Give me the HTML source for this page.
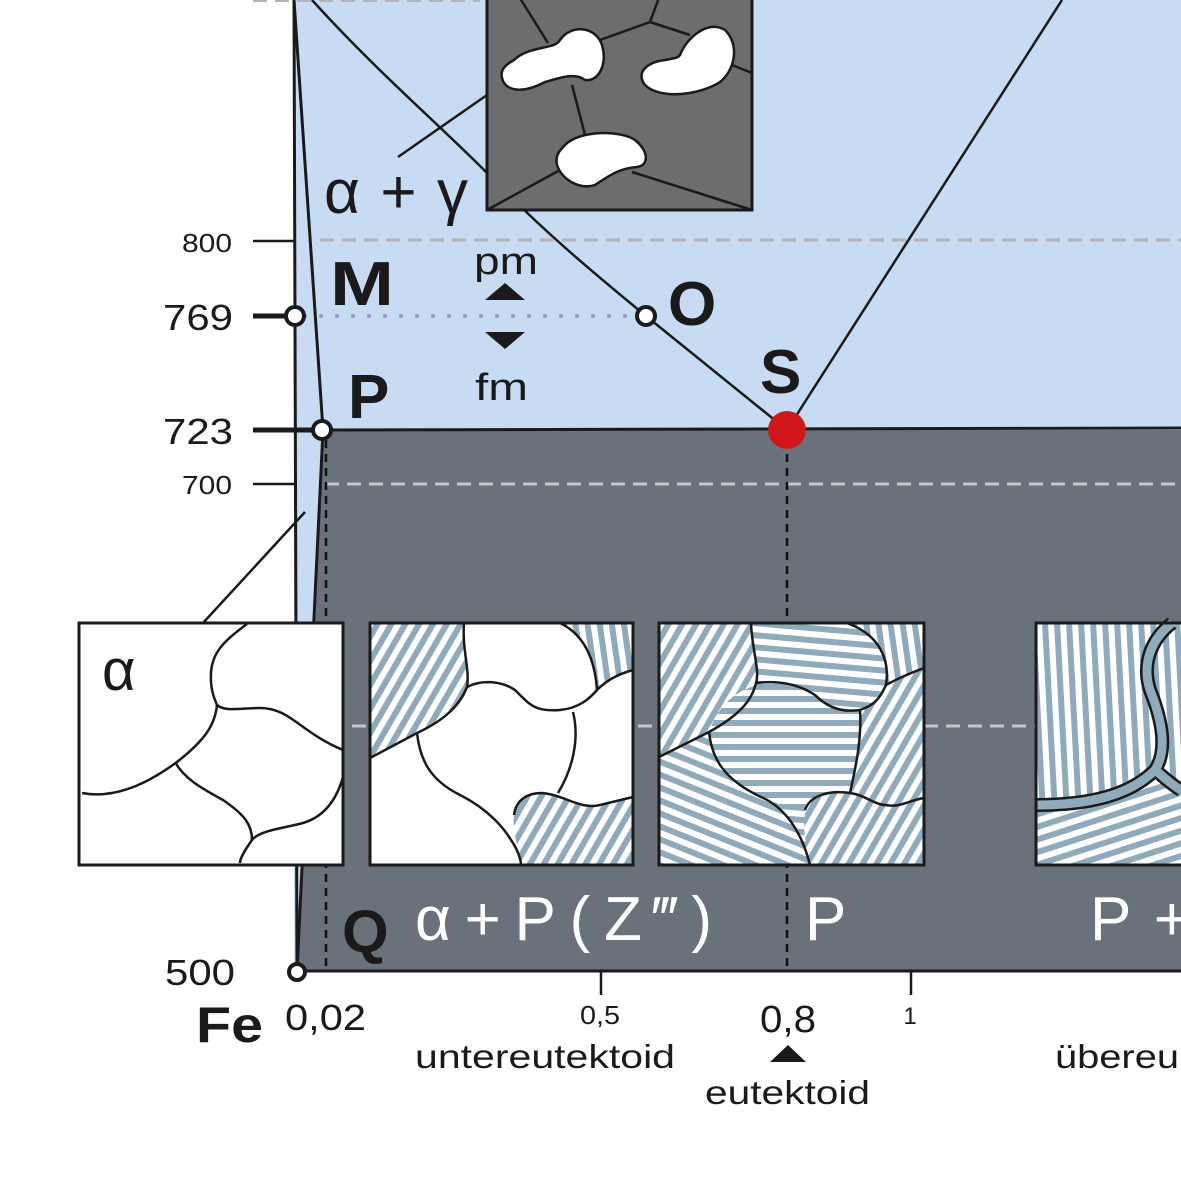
<!DOCTYPE html>
<html><head><meta charset="utf-8"><style>html,body{margin:0;padding:0;background:#fff}svg{display:block}text{font-family:"Liberation Sans",sans-serif}</style></head><body>
<svg width="1181" height="1181" viewBox="0 0 1181 1181" xmlns="http://www.w3.org/2000/svg">
<defs>
<pattern id="h1" width="12" height="12" patternUnits="userSpaceOnUse" patternTransform="rotate(30)"><rect width="12" height="12" fill="#fff"/><rect width="6" height="12" fill="#8eaabb"/></pattern>
<pattern id="h3" width="12" height="12" patternUnits="userSpaceOnUse" patternTransform="rotate(95)"><rect width="12" height="12" fill="#fff"/><rect width="6" height="12" fill="#8eaabb"/></pattern>
<pattern id="h4" width="12" height="12" patternUnits="userSpaceOnUse" patternTransform="rotate(90)"><rect width="12" height="12" fill="#fff"/><rect width="6" height="12" fill="#8eaabb"/></pattern>
<pattern id="h5" width="12" height="12" patternUnits="userSpaceOnUse" patternTransform="rotate(112)"><rect width="12" height="12" fill="#fff"/><rect width="6" height="12" fill="#8eaabb"/></pattern>
<pattern id="h6" width="12" height="12" patternUnits="userSpaceOnUse" patternTransform="rotate(72)"><rect width="12" height="12" fill="#fff"/><rect width="6" height="12" fill="#8eaabb"/></pattern>
<pattern id="hv" width="12" height="12" patternUnits="userSpaceOnUse" patternTransform="rotate(-8)"><rect width="12" height="12" fill="#fff"/><rect width="6" height="12" fill="#8eaabb"/></pattern>
<pattern id="h0" width="12" height="12" patternUnits="userSpaceOnUse" patternTransform="rotate(-3)"><rect width="12" height="12" fill="#fff"/><rect width="6" height="12" fill="#8eaabb"/></pattern>
</defs>
<polygon points="294,0 1181,0 1181,430 323,430 297,972 294,972" fill="#c7dcf3"/>
<polygon points="323,430 1181,430 1181,972 297,972" fill="#69717b"/>
<line x1="253" y1="0" x2="480" y2="0" stroke="#b5b5b5" stroke-width="4" stroke-dasharray="14,8"/>
<line x1="320" y1="240" x2="1181" y2="240" stroke="#b5b5b5" stroke-width="3" stroke-dasharray="14,8"/>
<line x1="325" y1="484" x2="1181" y2="484" stroke="#c4c8cc" stroke-width="3" stroke-dasharray="14,8"/>
<line x1="330" y1="726" x2="1181" y2="726" stroke="#c4c8cc" stroke-width="3" stroke-dasharray="14,8"/>
<line x1="305" y1="316" x2="635" y2="316" stroke="#9b93c8" stroke-width="4" stroke-dasharray="0,16" stroke-linecap="round"/>
<line x1="326" y1="440" x2="326" y2="972" stroke="#111" stroke-width="2.5" stroke-dasharray="8,6"/>
<line x1="787" y1="440" x2="787" y2="972" stroke="#111" stroke-width="2.5" stroke-dasharray="8,6"/>
<g stroke="#1a1a1a" fill="none">
<line x1="294" y1="0" x2="297" y2="972" stroke-width="3"/>
<polyline points="294,0 323,430 297,972" stroke-width="3"/>
<path d="M312,0 C380,75 440,125 490,176 C540,228 590,270 646,316 L787,430" stroke-width="2.5"/>
<line x1="787" y1="430" x2="1062" y2="0" stroke-width="2.5"/>
<line x1="323" y1="430" x2="1181" y2="428" stroke-width="3"/>
<line x1="297" y1="971" x2="1181" y2="971" stroke-width="3"/>
<line x1="253" y1="241" x2="295" y2="241" stroke-width="2.5"/>
<line x1="253" y1="316" x2="290" y2="316" stroke-width="5"/>
<line x1="253" y1="430" x2="315" y2="430" stroke-width="5"/>
<line x1="253" y1="484" x2="295" y2="484" stroke-width="2.5"/>
<line x1="601" y1="972" x2="601" y2="995" stroke-width="2.5"/>
<line x1="911" y1="972" x2="911" y2="995" stroke-width="2.5"/>
<line x1="398" y1="157" x2="487" y2="95" stroke-width="2.5"/>
<line x1="305" y1="512" x2="203" y2="623" stroke-width="2.5"/>
</g>
<g fill="#fff" stroke="#1a1a1a" stroke-width="4">
<circle cx="295" cy="316" r="9"/><circle cx="646" cy="316" r="9"/><circle cx="322" cy="430" r="9"/><circle cx="297" cy="972" r="8"/>
</g>
<circle cx="787" cy="430" r="19" fill="#d0181b"/>
<rect x="487" y="-5" width="265" height="215" fill="#6d6c6e" stroke="#1a1a1a" stroke-width="3"/>
<g stroke="#1a1a1a" stroke-width="2.5" fill="none">
<path d="M548,43 L518,-5"/><path d="M600,40 L650,22 L660,-5"/><path d="M650,22 L690,35"/><path d="M732,65 L752,73"/>
<path d="M572,85 L585,135"/><path d="M487,210 L560,170"/><path d="M632,172 L752,210"/>
</g>
<g fill="#fff" stroke="#1a1a1a" stroke-width="2.5">
<path d="M514,60 C530,45 555,50 560,40 C570,25 595,25 602,45 C608,65 598,82 585,80 C575,72 560,78 545,82 C520,95 505,90 502,78 C500,70 505,65 514,60Z"/>
<path d="M680,55 C688,35 710,20 725,30 C740,45 735,70 720,82 C700,95 660,100 645,85 C635,72 648,62 665,60 C675,58 678,58 680,55Z"/>
<path d="M565,145 C580,130 620,130 635,140 C648,150 650,165 637,167 C620,168 610,175 595,185 C580,190 562,180 557,165 C555,155 560,150 565,145Z"/>
</g>
<rect x="79" y="623" width="264" height="242" fill="#fff" stroke="#1a1a1a" stroke-width="3"/>
<g stroke="#1a1a1a" stroke-width="2.5" fill="none">
<path d="M247,624 C225,640 212,652 211,673 C210,690 215,700 217,705 C225,712 240,708 260,708 C290,708 300,732 343,750"/>
<path d="M217,705 C215,725 205,740 177,762 C155,778 120,800 82,793"/>
<path d="M175,762 C185,780 205,790 223,800 C245,815 252,825 252,840 C245,850 240,858 240,863"/>
<path d="M252,840 C260,830 285,828 303,823 C320,818 335,805 343,777"/>
</g>
<rect x="370" y="623" width="263" height="242" fill="#fff"/>
<path d="M370,623 L464,623 C462,650 470,670 467,687 C460,705 445,720 417,733 L370,758 Z" fill="url(#h1)"/>
<path d="M560,623 L633,623 L633,670 C615,675 605,682 597,690 C595,660 585,635 560,623Z" fill="url(#hv)"/>
<path d="M521,865 C518,845 512,830 514,815 C516,800 527,793 542,793 C565,795 580,810 600,805 L633,797 L633,865 Z" fill="url(#h1)"/>
<g stroke="#1a1a1a" stroke-width="2.5" fill="none">
<path d="M464,623 C462,650 470,670 467,687 C460,705 445,720 417,733 L370,758"/>
<path d="M560,623 C585,635 595,660 597,690 C605,682 615,675 633,670"/>
<path d="M467,687 C480,680 500,680 515,690 C530,705 535,712 560,710 C580,708 590,698 597,690"/>
<path d="M573,712 C580,740 572,770 558,793"/>
<path d="M417,733 C420,760 430,780 460,795 C490,810 505,830 511,840 C518,850 521,860 521,865"/>
<path d="M514,815 C516,800 527,793 542,793 C565,795 580,810 600,805 L633,797"/>
</g>
<rect x="370" y="623" width="263" height="242" fill="none" stroke="#1a1a1a" stroke-width="3"/>
<rect x="659" y="623" width="265" height="242" fill="url(#h3)"/>
<path d="M659,623 L751,623 C752,650 760,670 756,683 C752,700 740,715 709,732 L659,757Z" fill="url(#h1)"/>
<path d="M847,623 L924,623 L924,668 C905,675 895,680 886,685 C890,660 880,635 847,623Z" fill="url(#hv)"/>
<path d="M886,685 C895,680 905,675 924,668 L924,798 C905,800 895,810 886,805 C870,800 865,795 850,793 C855,770 862,740 860,710 C870,705 880,700 886,685Z" fill="url(#h1)"/>
<path d="M659,757 L709,732 C712,760 725,780 761,797 C780,805 800,825 810,865 L659,865Z" fill="url(#h5)"/>
<path d="M810,865 C805,840 800,815 810,800 C818,793 840,793 850,793 C865,795 875,805 886,805 C900,808 910,800 924,798 L924,865Z" fill="url(#h1)"/>
<path d="M709,732 C720,700 740,690 760,684 C780,680 800,685 815,695 C830,710 845,712 860,710 C862,740 855,770 850,793 C835,793 815,795 805,805 C795,815 785,805 761,797 C730,785 712,760 709,732Z" fill="url(#h4)"/>
<g stroke="#1a1a1a" stroke-width="2.5" fill="none">
<path d="M751,623 C752,650 760,670 756,683 C752,700 740,715 709,732 L659,757"/>
<path d="M847,623 C880,635 890,660 886,685 C895,680 905,675 924,668"/>
<path d="M756,683 C780,680 800,685 815,695 C830,710 845,712 860,710 C875,705 880,698 886,685"/>
<path d="M860,710 C862,740 855,770 850,793"/>
<path d="M709,732 C712,760 725,780 761,797 C780,805 800,825 810,865"/>
<path d="M805,810 C810,795 830,790 850,793 C865,795 875,805 886,805 C900,808 910,800 924,798"/>
</g>
<rect x="659" y="623" width="265" height="242" fill="none" stroke="#1a1a1a" stroke-width="3"/>
<rect x="1036" y="623" width="160" height="242" fill="url(#h0)"/>
<path d="M1036,807 C1070,805 1100,800 1130,785 C1160,770 1178,780 1181,790 L1181,865 L1036,865Z" fill="url(#h6)"/>
<g stroke="#1a1a1a" stroke-width="14" fill="none">
<path d="M1172,623 C1150,640 1142,665 1150,690 C1162,720 1168,750 1155,770 C1130,795 1090,805 1036,805"/>
<path d="M1155,770 C1165,778 1172,785 1181,790"/>
</g>
<g stroke="#8eaabb" stroke-width="9" fill="none">
<path d="M1172,623 C1150,640 1142,665 1150,690 C1162,720 1168,750 1155,770 C1130,795 1090,805 1036,805"/>
<path d="M1155,770 C1165,778 1172,785 1181,790"/>
</g>
<rect x="1036" y="623" width="160" height="242" fill="none" stroke="#1a1a1a" stroke-width="3"/>
<g fill="#1a1a1a">
<text x="182" y="252" font-size="26" textLength="50" lengthAdjust="spacingAndGlyphs">800</text>
<text x="163" y="330" font-size="36" textLength="70" lengthAdjust="spacingAndGlyphs">769</text>
<text x="163" y="444" font-size="36" textLength="70" lengthAdjust="spacingAndGlyphs">723</text>
<text x="182" y="494" font-size="26" textLength="50" lengthAdjust="spacingAndGlyphs">700</text>
<text x="165" y="985" font-size="36" textLength="70" lengthAdjust="spacingAndGlyphs">500</text>
<text x="196" y="1042" font-size="50" font-weight="bold" textLength="67" lengthAdjust="spacingAndGlyphs">Fe</text>
<text x="285" y="1030" font-size="36" textLength="81" lengthAdjust="spacingAndGlyphs">0,02</text>
<text x="580" y="1024" font-size="26" textLength="40" lengthAdjust="spacingAndGlyphs">0,5</text>
<text x="760" y="1032" font-size="38" textLength="56" lengthAdjust="spacingAndGlyphs">0,8</text>
<text x="910" y="1024" font-size="24" text-anchor="middle">1</text>
<text x="415" y="1068" font-size="33" textLength="260" lengthAdjust="spacingAndGlyphs">untereutektoid</text>
<polygon points="770,1062 806,1062 788,1045"/>
<text x="705" y="1104" font-size="33" textLength="165" lengthAdjust="spacingAndGlyphs">eutektoid</text>
<text x="1055" y="1068" font-size="33" textLength="124" lengthAdjust="spacingAndGlyphs">übereu</text>
<text x="342" y="952" font-size="60" font-weight="bold">Q</text>
<text x="330" y="305" font-size="62" font-weight="bold" textLength="64" lengthAdjust="spacingAndGlyphs">M</text>
<text x="474" y="274" font-size="38" textLength="64" lengthAdjust="spacingAndGlyphs">pm</text>
<polygon points="485,300 525,300 505,283"/>
<polygon points="485,332 525,332 505,349"/>
<text x="475" y="400" font-size="38" textLength="53" lengthAdjust="spacingAndGlyphs">fm</text>
<text x="668" y="325" font-size="62" font-weight="bold">O</text>
<text x="760" y="393" font-size="62" font-weight="bold">S</text>
<text x="348" y="418" font-size="62" font-weight="bold">P</text>
<text x="324" y="213" font-size="62" textLength="144" lengthAdjust="spacing">α+γ</text>
<text x="102" y="690" font-size="58">α</text>
</g>
<g fill="#fff">
<text x="415" y="940" font-size="62" textLength="297" lengthAdjust="spacing">α+P(Z‴)</text>
<text x="805" y="940" font-size="62">P</text>
<text x="1090" y="940" font-size="62" textLength="100" lengthAdjust="spacing">P+</text>
</g>
</svg>
</body></html>
